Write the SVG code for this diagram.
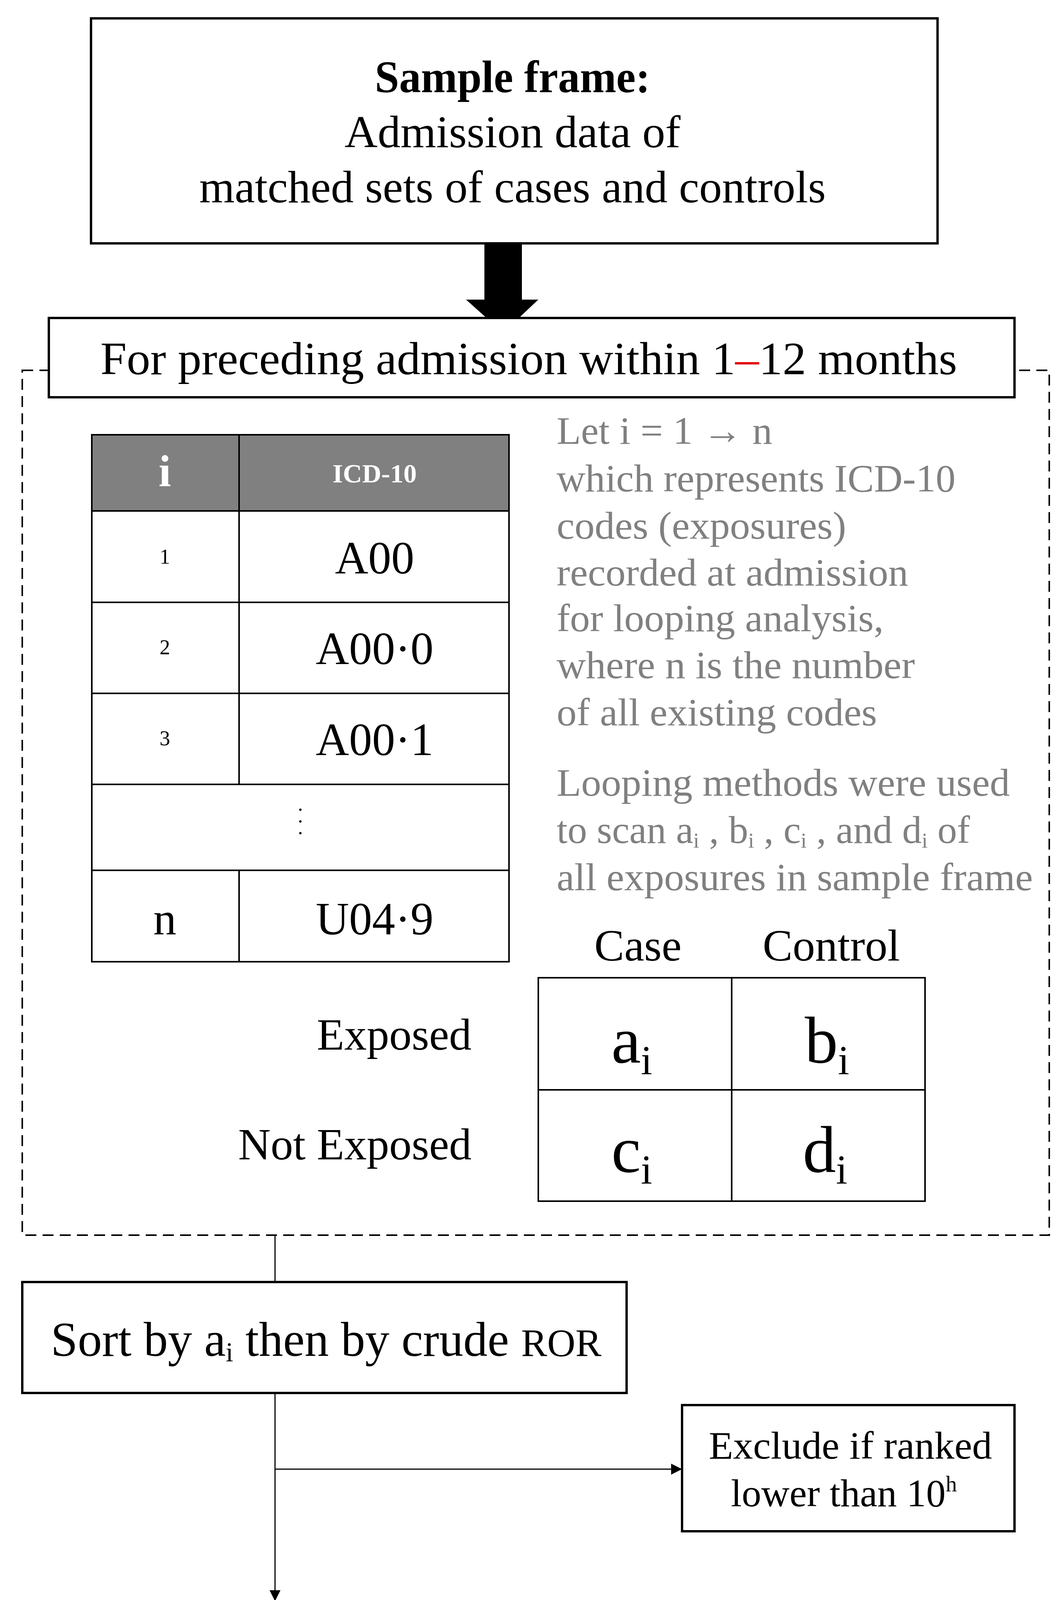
<svg xmlns="http://www.w3.org/2000/svg" width="2693" height="5216" viewBox="0 0 2693 5216">
<style>
text{font-family:"Liberation Serif","Times New Roman",serif;fill:#000}
.box{fill:#fff;stroke:#000;stroke-width:6}
.tl{fill:none;stroke:#000;stroke-width:4}
.g{fill:#808080;font-size:100px}
.c{text-anchor:middle}
.ln{stroke:#000;stroke-width:3;fill:none}
</style>
<defs>
<marker id="ah2" viewBox="0 0 10 10" refX="10" refY="5" markerWidth="28" markerHeight="28" markerUnits="userSpaceOnUse" orient="auto"><path d="M0,0L10,5L0,10z" fill="#000"/></marker></defs>

<g id="sample-frame"><rect class="box" x="233" y="47" width="2167" height="576"/>
<text class="c" x="1312" y="236" font-size="116" font-weight="bold" textLength="705" lengthAdjust="spacingAndGlyphs">Sample frame:</text>
<text class="c" x="1312" y="377" font-size="116" textLength="860" lengthAdjust="spacingAndGlyphs">Admission data of</text>
<text class="c" x="1312" y="518" font-size="116" textLength="1604" lengthAdjust="spacingAndGlyphs">matched sets of cases and controls</text></g>

<g id="connectors">
<path d="M1240,623H1336V767H1378L1288,852L1193,767H1240Z" fill="#000"/>
<line class="ln" x1="704" y1="3162" x2="704" y2="3282"/>
<line class="ln" x1="704" y1="3566" x2="704" y2="4099" marker-end="url(#ah2)"/>
<line class="ln" x1="704" y1="3761" x2="1746" y2="3761" marker-end="url(#ah2)"/>
<line class="ln" x1="704" y1="4571" x2="704" y2="4760" marker-end="url(#ah2)"/>
</g>

<g id="loop-frame"><rect x="57" y="948" width="2629" height="2214" fill="none" stroke="#000" stroke-width="4" stroke-dasharray="28,16"/></g>

<g id="preceding"><rect class="box" x="125" y="814" width="2472" height="203"/>
<text x="257" y="958" font-size="118" textLength="2193" lengthAdjust="spacingAndGlyphs">For preceding admission within  1<tspan fill="#e00000" style="fill:#e00000">–</tspan>12 months</text></g>

<g id="icd-table">
<rect x="235" y="1113" width="1068" height="195" fill="#808080" stroke="#000" stroke-width="4"/>
<rect class="tl" x="235" y="1113" width="1068" height="1349"/>
<path class="tl" d="M235,1308H1303M235,1542H1303M235,1775H1303M235,2008H1303M235,2228H1303M612,1113V2008M612,2228V2462"/>
<text class="c" x="422" y="1245" font-size="115" font-weight="bold" style="fill:#fff">i</text>
<text class="c" x="959" y="1235" font-size="68" font-weight="bold" style="fill:#fff">ICD-10</text>
<text class="c" x="422" y="1443" font-size="54">1</text>
<text class="c" x="959" y="1468" font-size="118">A00</text>
<text class="c" x="422" y="1675" font-size="54">2</text>
<text class="c" x="959" y="1700" font-size="118">A00·0</text>
<text class="c" x="422" y="1908" font-size="54">3</text>
<text class="c" x="959" y="1933" font-size="118">A00·1</text>
<text class="c" font-size="52"><tspan x="769" y="2090">·</tspan><tspan x="769" y="2120">·</tspan><tspan x="769" y="2150">·</tspan></text>
<text class="c" x="422" y="2392" font-size="118">n</text>
<text class="c" x="959" y="2392" font-size="118">U04·9</text>
</g>

<g id="notes">
<text class="g" x="1425" y="1136" textLength="552" lengthAdjust="spacingAndGlyphs">Let i = 1 → n</text>
<text class="g" x="1425" y="1258" textLength="1021" lengthAdjust="spacingAndGlyphs">which represents ICD-10</text>
<text class="g" x="1425" y="1379" textLength="741" lengthAdjust="spacingAndGlyphs">codes (exposures)</text>
<text class="g" x="1425" y="1499" textLength="900" lengthAdjust="spacingAndGlyphs">recorded at admission</text>
<text class="g" x="1425" y="1616" textLength="837" lengthAdjust="spacingAndGlyphs">for looping analysis,</text>
<text class="g" x="1425" y="1736" textLength="917" lengthAdjust="spacingAndGlyphs">where n is the number</text>
<text class="g" x="1425" y="1857" textLength="820" lengthAdjust="spacingAndGlyphs">of all existing codes</text>
<text class="g" x="1425" y="2037" textLength="1160" lengthAdjust="spacingAndGlyphs">Looping methods were used</text>
<text class="g" x="1425" y="2158">to scan a<tspan font-size="55" dy="12">i</tspan><tspan dy="-12"> , b</tspan><tspan font-size="55" dy="12">i</tspan><tspan dy="-12"> , c</tspan><tspan font-size="55" dy="12">i</tspan><tspan dy="-12"> , and d</tspan><tspan font-size="55" dy="12">i</tspan><tspan dy="-12"> of</tspan></text>
<text class="g" x="1425" y="2279" textLength="1219" lengthAdjust="spacingAndGlyphs">all exposures in sample frame</text>
</g>

<g id="contingency">
<text class="c" x="1633" y="2459" font-size="115">Case</text>
<text class="c" x="2128" y="2459" font-size="115">Control</text>
<text x="1207" y="2687" font-size="115" text-anchor="end">Exposed</text>
<text x="1207" y="2968" font-size="115" text-anchor="end">Not Exposed</text>
<rect class="tl" x="1378" y="2503" width="990" height="572"/>
<path class="tl" d="M1873,2503V3075M1378,2790H2368"/>
<text x="1565" y="2720" font-size="170">a<tspan font-size="105" dy="30">i</tspan></text>
<text x="2060" y="2720" font-size="170">b<tspan font-size="105" dy="30">i</tspan></text>
<text x="1565" y="3000" font-size="170">c<tspan font-size="105" dy="30">i</tspan></text>
<text x="2055" y="3000" font-size="170">d<tspan font-size="105" dy="30">i</tspan></text>
</g>

<g id="sort"><rect class="box" x="57" y="3282" width="1547" height="284"/>
<text x="130" y="3471" font-size="124">Sort by a<tspan font-size="70" dy="14">i</tspan><tspan dy="-14">  then by crude </tspan><tspan font-size="100"> ROR</tspan></text></g>

<g id="exclude"><rect class="box" x="1746" y="3597" width="851" height="323"/>
<text class="c" x="2177" y="3734" font-size="100" textLength="725" lengthAdjust="spacingAndGlyphs">Exclude if ranked</text>
<text x="1871" y="3856" font-size="100">lower than 10<tspan font-size="58" dy="-38">h</tspan></text></g>

<g id="regression"><rect class="box" x="108" y="4115" width="2489" height="456"/>
<text class="c" x="1369" y="4257" font-size="100" textLength="2172" lengthAdjust="spacingAndGlyphs">Perform conditional logistic regression and calculate</text>
<text class="c" x="1357" y="4375" font-size="100" textLength="1419" lengthAdjust="spacingAndGlyphs">median preceding weeks with IQR</text>
<text class="c" x="1360" y="4497" font-size="100" textLength="1303" lengthAdjust="spacingAndGlyphs">for the rest of the ICD-10 codes</text></g>

<g id="return"><rect class="box" x="113" y="4763" width="2111" height="419"/>
<text x="591" y="4888" font-size="100">Return ICD-10<tspan font-size="58" dy="14">i</tspan><tspan dy="-14"> , a</tspan><tspan font-size="58" dy="14">i</tspan><tspan dy="-14">, b</tspan><tspan font-size="58" dy="14">i</tspan><tspan dy="-14">, c</tspan><tspan font-size="58" dy="14">i</tspan><tspan dy="-14">, d</tspan><tspan font-size="58" dy="14">i</tspan><tspan dy="-14">,</tspan></text>
<text x="620" y="5003" font-size="100">cROR<tspan font-size="58" dy="14">i</tspan><tspan dy="-14"> with 95% CI range,</tspan></text>
<text class="c" x="1172" y="5124" font-size="100" textLength="1902" lengthAdjust="spacingAndGlyphs">and median weeks of i preceding TB with IQR</text></g>
</svg>
